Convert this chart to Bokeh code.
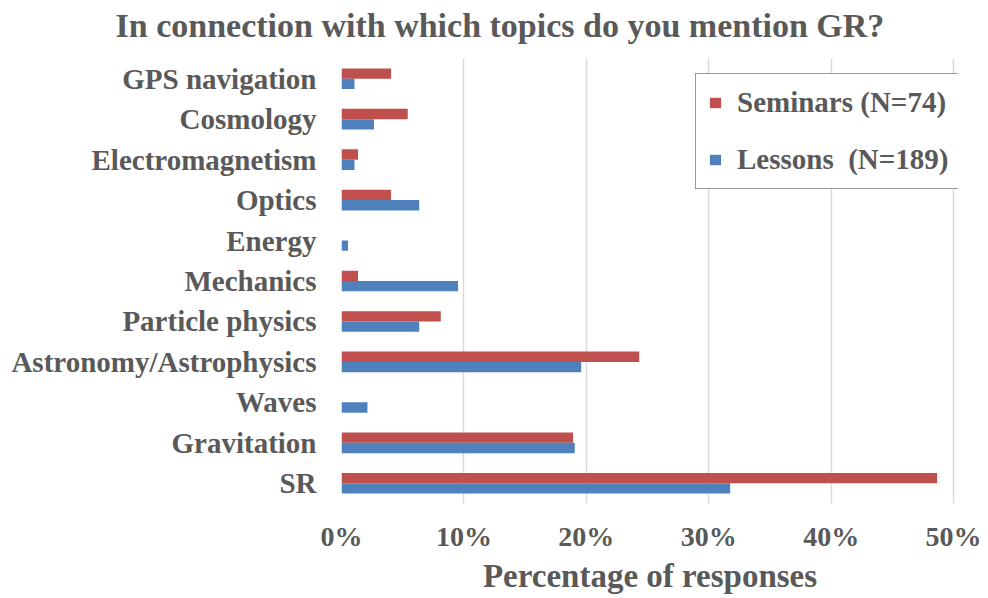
from bokeh.plotting import figure
from bokeh.models import (FactorRange, Range1d, ColumnDataSource, Legend, LegendItem,
                          PrintfTickFormatter, FixedTicker, Title)
from bokeh.transform import dodge
from bokeh.embed import file_html
from bokeh.resources import INLINE

# Data (top to bottom as in the chart)
topics = ["GPS navigation", "Cosmology", "Electromagnetism", "Optics", "Energy",
          "Mechanics", "Particle physics", "Astronomy/Astrophysics", "Waves",
          "Gravitation", "SR"]
seminars = [4.05, 5.41, 1.35, 4.05, 0.0, 1.35, 8.11, 24.32, 0.0, 18.92, 48.65]
lessons = [1.06, 2.65, 1.06, 6.35, 0.53, 9.52, 6.35, 19.58, 2.12, 19.05, 31.75]
x_ticks = [0, 10, 20, 30, 40, 50]

title_text = "In connection with which topics do you mention GR?"
x_label = "Percentage of responses"
seminars_label = "Seminars (N=74)"
lessons_label = "Lessons  (N=189)"

RED = "#C0504D"
BLUE = "#4F81BD"
GRAY = "#595959"
FONT = "Liberation Serif"

src = ColumnDataSource(dict(topic=topics, seminars=seminars, lessons=lessons))

W, H = 986, 596
FRAME_TOP, FRAME_BOTTOM, FRAME_LEFT = 58, 506, 341
p = figure(width=W, height=H, output_backend="svg", toolbar_location=None,
           y_range=FactorRange(*list(reversed(topics))), x_range=Range1d(0, 50.4),
           min_border_left=FRAME_LEFT, min_border_right=W - 958,
           min_border_top=FRAME_TOP, min_border_bottom=H - FRAME_BOTTOM)

p.title = Title(text=title_text, align="left", offset=115 - FRAME_LEFT, text_font=FONT,
                text_font_size="34px", text_font_style="bold", text_color=GRAY,
                standoff=0)
# thin spacer panel between the title and the plot frame
p.add_layout(Title(text=" ", text_font_size="1px", standoff=12), "above")

bh = 0.255
r_sem = p.hbar(y=dodge("topic", bh / 2, range=p.y_range), left=0, right="seminars",
               height=bh, source=src, fill_color=RED, line_color=None)
r_les = p.hbar(y=dodge("topic", -bh / 2, range=p.y_range), left=0, right="lessons",
               height=bh, source=src, fill_color=BLUE, line_color=None)

p.outline_line_color = None
p.ygrid.grid_line_color = None
p.xgrid.grid_line_color = "#d9d9d9"
p.xgrid.grid_line_width = 1.5

p.xaxis.ticker = FixedTicker(ticks=x_ticks)
p.xaxis.formatter = PrintfTickFormatter(format="%d%%")
p.xaxis.axis_line_color = None
p.xaxis.major_tick_line_color = None
p.xaxis.minor_tick_line_color = None
p.xaxis.major_tick_out = 0
p.xaxis.major_label_standoff = 17
p.xaxis.major_label_text_font = FONT
p.xaxis.major_label_text_font_size = "28px"
p.xaxis.major_label_text_font_style = "bold"
p.xaxis.major_label_text_color = GRAY
p.xaxis.axis_label = x_label
p.xaxis.axis_label_standoff = 3
p.xaxis.axis_label_text_font = FONT
p.xaxis.axis_label_text_font_size = "33px"
p.xaxis.axis_label_text_font_style = "bold"
p.xaxis.axis_label_text_color = GRAY

p.yaxis.axis_line_color = None
p.yaxis.major_tick_line_color = None
p.yaxis.minor_tick_line_color = None
p.yaxis.major_tick_out = 0
p.yaxis.major_label_standoff = 25
p.yaxis.major_label_text_font = FONT
p.yaxis.major_label_text_font_size = "29px"
p.yaxis.major_label_text_font_style = "bold"
p.yaxis.major_label_text_color = GRAY

legend = Legend(items=[LegendItem(label=seminars_label, renderers=[r_sem]),
                       LegendItem(label=lessons_label, renderers=[r_les])],
                location=(354, FRAME_BOTTOM - 192), orientation="vertical",
                border_line_color="#333333", border_line_width=1,
                background_fill_color="white", background_fill_alpha=1,
                padding=12, spacing=24, margin=0,
                glyph_width=14, glyph_height=13, label_height=30,
                label_standoff=15, label_text_font=FONT,
                label_text_font_size="29px", label_text_font_style="bold",
                label_text_color=GRAY)
p.add_layout(legend, "center")

open("out.html", "w").write(file_html(p, INLINE))
